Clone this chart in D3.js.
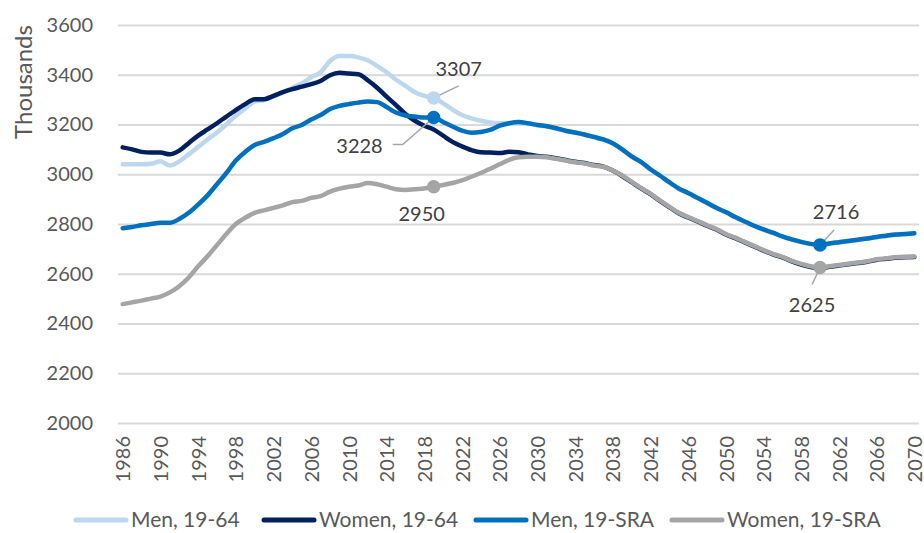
<!DOCTYPE html>
<html>
<head>
<meta charset="utf-8">
<script src="https://cdn.jsdelivr.net/npm/d3@7"></script>
<style>
  body { margin: 0; background: #fff; }
  text { font-family: Lato, "Open Sans", sans-serif; }
</style>
</head>
<body>
<script>
// years 1986..2070
var years = d3.range(1986, 2071);
var xTickYears = d3.range(1986, 2071, 4);
var yTicks = [2000, 2200, 2400, 2600, 2800, 3000, 3200, 3400, 3600];

var seriesNames = ["Men, 19-64", "Women, 19-64", "Men, 19-SRA", "Women, 19-SRA"];

var men1964 = [
  3040, 3040, 3040, 3042, 3052, 3035, 3052, 3080, 3110, 3140,
  3168, 3200, 3235, 3265, 3292, 3298, 3312, 3328, 3348, 3365,
  3390, 3410, 3455, 3475, 3475, 3470, 3458, 3435, 3410, 3380,
  3355, 3330, 3315, 3307, 3285, 3260, 3238, 3225, 3215, 3208,
  3205, 3205, 3210, 3205, 3198, 3192, 3184, 3174, 3167, 3159,
  3149, 3139, 3124, 3099, 3071, 3049, 3019, 2994, 2967, 2942,
  2924, 2904, 2884, 2864, 2847, 2827, 2809, 2792, 2777, 2764,
  2749, 2737, 2727, 2719, 2715, 2721, 2726, 2731, 2736, 2741,
  2747, 2752, 2757, 2759, 2762
];

var women1964 = [
  3108, 3100, 3090, 3087, 3087, 3080, 3095, 3125, 3155, 3180,
  3205, 3232, 3258, 3282, 3302, 3302, 3315, 3330, 3342, 3352,
  3362, 3375, 3398, 3408, 3405, 3402, 3378, 3348, 3312, 3278,
  3242, 3215, 3195, 3180, 3155, 3130, 3112, 3097, 3088, 3087,
  3085, 3090, 3088, 3080, 3073, 3070, 3064, 3057, 3050, 3045,
  3037, 3031, 3015, 2993, 2968, 2943, 2920, 2893, 2868, 2843,
  2826, 2810, 2793, 2778, 2758, 2743, 2726, 2710, 2693, 2678,
  2666, 2650, 2637, 2627, 2622, 2628, 2633, 2638, 2643, 2648,
  2656, 2660, 2664, 2666, 2667
];

var menSRA = [
  2783, 2788, 2795, 2800, 2805, 2805, 2820, 2845, 2878, 2915,
  2960, 3005, 3055, 3090, 3118, 3130, 3145, 3162, 3185, 3198,
  3220, 3238, 3262, 3275, 3282, 3288, 3292, 3290, 3270, 3248,
  3236, 3232, 3228, 3228, 3210, 3192, 3175, 3167, 3170, 3178,
  3195, 3205, 3210, 3205, 3198, 3193, 3185, 3175, 3168, 3160,
  3150, 3140, 3125, 3100, 3072, 3050, 3020, 2995, 2968, 2943,
  2925, 2905, 2885, 2865, 2848, 2828, 2810, 2793, 2778, 2765,
  2750, 2738, 2728, 2720, 2716, 2722, 2727, 2732, 2737, 2742,
  2748, 2753, 2758, 2760, 2763
];

var womenSRA = [
  2478, 2485, 2492, 2500, 2508, 2525, 2550, 2585, 2630, 2670,
  2715, 2760, 2800, 2825, 2845, 2855, 2865, 2875, 2888, 2893,
  2905, 2912, 2930, 2942, 2950, 2955, 2965, 2960, 2950, 2940,
  2937, 2940, 2943, 2950, 2957, 2965, 2975, 2990, 3005, 3022,
  3040, 3058, 3068, 3070, 3070, 3068, 3062, 3055, 3048, 3043,
  3035, 3030, 3015, 2995, 2970, 2945, 2922, 2895, 2870, 2845,
  2828, 2812, 2795, 2780, 2760, 2745, 2728, 2712, 2695, 2680,
  2668, 2652, 2640, 2630, 2625, 2630, 2635, 2640, 2645, 2650,
  2658, 2662, 2666, 2668, 2669
];

var colors = ["#bdd7ee", "#002060", "#0070c0", "#a5a5a5"];
var allSeries = [men1964, women1964, menSRA, womenSRA];

// labelled points: series index, year, label offset (px) and leader line end (px)
var callouts = [
  { s: 0, year: 2019, tx: 25, ty: -29, lx: 25, ly: -12, anchor: "middle", leader: true },
  { s: 2, year: 2019, tx: -51, ty: 28, lx: -31, ly: 27, anchor: "end", leader: true, elbow: -41 },
  { s: 3, year: 2019, tx: -12, ty: 27, anchor: "middle", leader: false },
  { s: 2, year: 2060, tx: 16, ty: -33, lx: 14, ly: -15, anchor: "middle", leader: true },
  { s: 3, year: 2060, tx: -8, ty: 37, lx: -8, ly: 17, anchor: "middle", leader: true }
];

var w = 924, h = 533;
var plotL = 118, plotR = 919, plotT = 25, plotB = 423;

var svg = d3.select("body").append("svg")
    .attr("width", w)
    .attr("height", h);

var x = d3.scalePoint()
    .domain(years)
    .range([plotL, plotR])
    .padding(0.5);

var y = d3.scaleLinear()
    .domain([2000, 3600])
    .range([plotB, plotT]);

// gridlines + y labels
var yAxis = svg.append("g")
    .attr("transform", "translate(" + plotL + ",0)")
    .call(d3.axisLeft(y).tickValues(yTicks).tickSize(-(plotR - plotL)).tickPadding(25).tickFormat(d3.format("d")));
yAxis.select(".domain").remove();
yAxis.selectAll(".tick line").attr("stroke", "#d9d9d9").attr("stroke-width", 2);
yAxis.selectAll(".tick text").attr("fill", "#595959").attr("font-size", "20px");

// x labels
var xAxis = svg.append("g")
    .attr("transform", "translate(0," + plotB + ")")
    .call(d3.axisBottom(x).tickValues(xTickYears).tickSize(0));
xAxis.select(".domain").remove();
xAxis.selectAll(".tick text")
    .attr("fill", "#595959")
    .attr("font-size", "20px")
    .attr("text-anchor", "end")
    .attr("transform", "rotate(-90)")
    .attr("x", -13)
    .attr("y", 0)
    .attr("dy", "0.36em");

svg.append("text")
    .attr("transform", "translate(32,82) rotate(-90)")
    .attr("text-anchor", "middle")
    .attr("fill", "#595959")
    .attr("font-size", "24px")
    .text("Thousands");

var line = d3.line()
    .x(function(d, i) { return x(years[i]); })
    .y(function(d) { return y(d); })
    .curve(d3.curveMonotoneX);

svg.selectAll("path.series")
    .data(allSeries)
    .enter()
    .append("path")
    .attr("class", "series")
    .attr("d", line)
    .attr("fill", "none")
    .attr("stroke", function(d, i) { return colors[i]; })
    .attr("stroke-width", 4.5)
    .attr("stroke-linejoin", "round")
    .attr("stroke-linecap", "round");

// callouts
callouts.forEach(function(c) {
  var v = allSeries[c.s][years.indexOf(c.year)];
  var px = x(c.year), py = y(v);
  if (c.leader) {
    var pts = [[px, py]];
    pts.push([px + c.lx, py + c.ly]);
    if (c.elbow !== undefined) pts.push([px + c.elbow, py + c.ly]);
    svg.append("path")
      .attr("d", d3.line()(pts))
      .attr("fill", "none")
      .attr("stroke", "#a6a6a6")
      .attr("stroke-width", 1.5);
  }
  svg.append("circle")
    .attr("cx", px)
    .attr("cy", py)
    .attr("r", 6)
    .attr("fill", colors[c.s])
    .attr("stroke", colors[c.s])
    .attr("stroke-width", 1.5);
  svg.append("text")
    .attr("x", px + c.tx)
    .attr("y", py + c.ty)
    .attr("dy", "0.35em")
    .attr("text-anchor", c.anchor)
    .attr("fill", "#404040")
    .attr("font-size", "20px")
    .text(v);
});

// legend
var legendX = [74, 262, 474, 670];
var legend = svg.selectAll("g.legend")
    .data(seriesNames)
    .enter()
    .append("g")
    .attr("class", "legend")
    .attr("transform", function(d, i) { return "translate(" + legendX[i] + ",520)"; });

legend.append("line")
    .attr("x1", 2).attr("x2", 52)
    .attr("stroke", function(d, i) { return colors[i]; })
    .attr("stroke-width", 5)
    .attr("stroke-linecap", "round");

legend.append("text")
    .attr("x", 57)
    .attr("dy", "0.35em")
    .attr("fill", "#595959")
    .attr("font-size", "21px")
    .text(function(d) { return d; });
</script>
</body>
</html>
